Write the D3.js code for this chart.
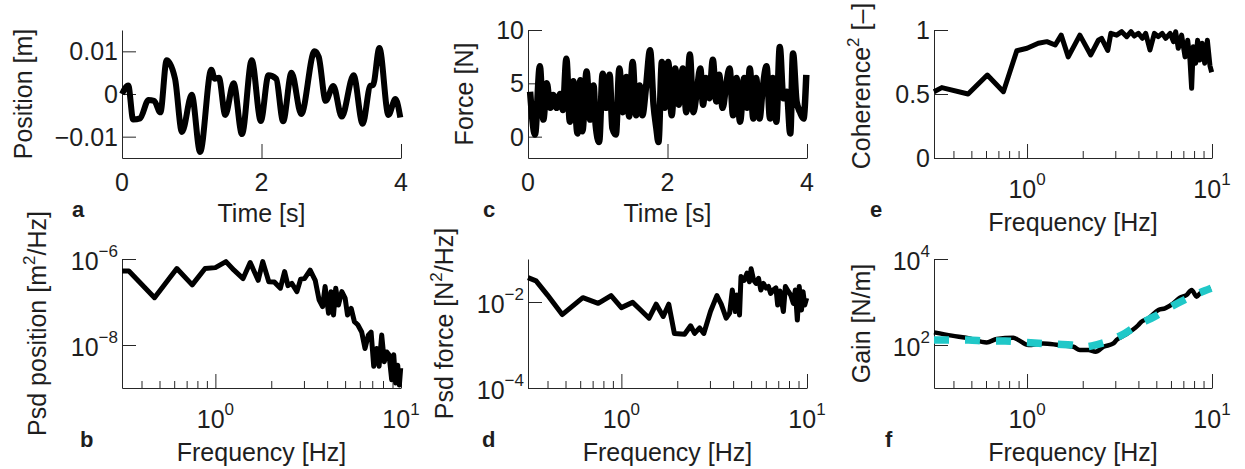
<!DOCTYPE html>
<html>
<head>
<meta charset="utf-8">
<script src="https://cdn.jsdelivr.net/npm/d3@7"></script>
<style>
  body { margin: 0; background: #fff; }
  text { font-family: "Liberation Sans", Arial, Helvetica, sans-serif; fill: #1e1e1e; }
  .axis .domain, .axis line { stroke: #262626; stroke-width: 1; }
</style>
</head>
<body>
<svg id="fig" width="1245" height="469"></svg>
<script>
// ---- data ----
// a: position vs time
const posTime = [0, 0.09, 0.16, 0.26, 0.38, 0.46, 0.55, 0.64, 0.76, 0.86, 1.0, 1.12, 1.28, 1.33, 1.39, 1.48, 1.6, 1.72, 1.86, 1.99,
  2.10, 2.21, 2.31, 2.43, 2.57, 2.76, 2.82, 2.92, 3.03, 3.15, 3.32, 3.45, 3.56, 3.60, 3.69, 3.82, 3.92, 3.99];
const posValue = [0, 0.002, -0.006, -0.0057, -0.0014, -0.0016, -0.0043, 0.0079, 0.0036, -0.0089, -0.0002, -0.0136, 0.0057, 0.0036, 0.0038, -0.0049, 0.0025, -0.0094, 0.0079, -0.0063,
  0.0044, 0.0036, -0.0064, 0.005, -0.0047, 0.01, 0.0087, -0.0016, 0.0019, -0.0053, 0.0044, -0.007, 0.0019, 0.0021, 0.0108, -0.0049, -0.0012, -0.0055];

// c: force vs time
const forceTime = [0.03, 0.10, 0.17, 0.22, 0.27, 0.32, 0.36, 0.41, 0.46, 0.50, 0.55, 0.60, 0.65, 0.71, 0.75, 0.78, 0.84, 0.89, 0.94, 0.97,
  1.02, 1.07, 1.12, 1.17, 1.21, 1.26, 1.31, 1.36, 1.41, 1.45, 1.50, 1.55, 1.60, 1.64, 1.69, 1.75, 1.80, 1.84, 1.87, 1.92,
  1.96, 2.01, 2.06, 2.11, 2.16, 2.22, 2.27, 2.32, 2.37, 2.42, 2.47, 2.51, 2.55, 2.60, 2.65, 2.70, 2.74, 2.79, 2.84, 2.89,
  2.94, 2.99, 3.04, 3.10, 3.14, 3.18, 3.23, 3.27, 3.32, 3.36, 3.42, 3.47, 3.51, 3.56, 3.61, 3.66, 3.71, 3.76, 3.80, 3.85,
  3.90, 3.95, 3.99];
const forceValue = [4.2, 0.2, 6.6, 1.6, 5.0, 2.7, 3.9, 2.7, 4.0, 2.5, 7.3, 1.4, 5.2, 0.3, 5.3, 0.5, 6.1, 1.6, 4.8, 1.1,
  -0.5, 5.9, 2.7, 5.8, 0.8, 0.2, 6.4, 2.3, 5.6, 1.9, 7.0, 2.0, 4.8, 2.0, 4.5, 8.1, 3.0, 0.8, -0.5, 7.0,
  2.7, 7.0, 2.0, 6.4, 3.0, 6.4, 2.3, 7.7, 2.3, 4.2, 6.4, 3.0, 5.5, 3.6, 7.2, 3.3, 5.8, 2.7, 4.8, 6.4,
  2.0, 5.5, 1.4, 5.5, 2.7, 6.4, 1.7, 5.5, 1.7, 4.2, 6.6, 1.7, 5.5, 1.4, 8.4, 3.6, 4.2, 0.3, 7.8, 3.3,
  2.3, 1.7, 5.8];

// e: squared coherence
const cohFreq = [0.314, 0.346, 0.48, 0.61, 0.745, 0.88, 1.0, 1.15, 1.28, 1.42, 1.53, 1.67, 1.93, 2.21, 2.43, 2.53, 2.73, 2.84, 3.05, 3.25,
  3.46, 3.65, 3.8, 4.0, 4.2, 4.38, 4.62, 4.88, 5.12, 5.38, 5.62, 5.94, 6.19, 6.36, 6.57, 6.85, 7.15, 7.39, 7.6, 7.76,
  7.92, 8.15, 8.36, 8.6, 8.85, 9.13, 9.44, 9.75, 9.96];
const cohValue = [0.518, 0.55, 0.5, 0.648, 0.518, 0.838, 0.857, 0.896, 0.909, 0.883, 0.96, 0.79, 0.96, 0.805, 0.92, 0.935, 0.84, 0.974, 0.96, 0.987,
  0.948, 0.987, 0.953, 0.974, 0.935, 0.974, 0.844, 0.974, 0.948, 0.974, 0.935, 0.974, 0.909, 0.987, 0.857, 0.96, 0.79, 0.92, 0.766, 0.544,
  0.87, 0.74, 0.92, 0.766, 0.896, 0.74, 0.92, 0.72, 0.67];

// b: psd of position
const psdPosFreq = [0.314, 0.342, 0.47, 0.62, 0.75, 0.88, 1.0, 1.14, 1.26, 1.41, 1.54, 1.70, 1.80, 1.94, 2.08, 2.24, 2.36, 2.46, 2.58, 2.75,
  2.88, 3.02, 3.24, 3.45, 3.62, 3.78, 3.90, 4.07, 4.20, 4.33, 4.45, 4.60, 4.80, 5.0, 5.15, 5.39, 5.61, 5.85, 6.14, 6.40,
  6.67, 6.90, 7.13, 7.40, 7.62, 7.87, 8.13, 8.37, 8.62, 8.91, 9.14, 9.36, 9.60, 9.80, 9.96];
const psdPosValue = [5.25e-7, 5.25e-7, 1.26e-7, 6.0e-7, 2.5e-7, 6.0e-7, 6.3e-7, 8.7e-7, 5.5e-7, 3.5e-7, 8.3e-7, 3.2e-7, 8.7e-7, 2.95e-7, 2.9e-7, 2.1e-7, 5.1e-7, 2.4e-7, 2.7e-7, 1.74e-7,
  3.4e-7, 3.5e-7, 5.5e-7, 3.2e-7, 1.12e-7, 7.8e-8, 2.3e-7, 5.5e-8, 1.74e-7, 5.0e-8, 2.1e-7, 8.5e-8, 1.74e-7, 1.23e-7, 5.0e-8, 7.1e-8, 3.5e-8, 2.95e-8, 2.0e-8, 8.3e-9,
  1.7e-8, 2.0e-8, 3.2e-9, 8.3e-9, 3.2e-9, 1.7e-8, 4.1e-9, 6.9e-9, 5.9e-9, 1.55e-9, 5.9e-9, 1.3e-9, 3.4e-9, 1.17e-9, 2.9e-9];

// d: psd of force
const psdForceFreq = [0.314, 0.347, 0.40, 0.48, 0.62, 0.75, 0.88, 1.0, 1.15, 1.27, 1.41, 1.54, 1.68, 1.80, 1.93, 2.19, 2.36, 2.48, 2.64, 2.78,
  3.02, 3.27, 3.45, 3.67, 3.83, 3.96, 4.11, 4.19, 4.33, 4.41, 4.59, 4.75, 4.90, 5.0, 5.16, 5.32, 5.48, 5.64, 5.83, 6.02,
  6.20, 6.37, 6.58, 6.80, 6.95, 7.15, 7.46, 7.65, 7.95, 8.17, 8.44, 8.65, 8.87, 9.08, 9.34, 9.52, 9.72, 9.96];
const psdForceValue = [0.037, 0.031, 0.0145, 0.0051, 0.0126, 0.0093, 0.0141, 0.0074, 0.0098, 0.0065, 0.0042, 0.0089, 0.0046, 0.0089, 0.00186, 0.00178, 0.0028, 0.00186, 0.0025, 0.00186,
  0.006, 0.0141, 0.0089, 0.0042, 0.0055, 0.019, 0.006, 0.0145, 0.005, 0.039, 0.032, 0.047, 0.0295, 0.059, 0.032, 0.027, 0.0355, 0.019, 0.027, 0.021,
  0.023, 0.0158, 0.019, 0.0214, 0.0085, 0.018, 0.006, 0.023, 0.0174, 0.0145, 0.0093, 0.019, 0.0038, 0.023, 0.0065, 0.0174, 0.0085, 0.0123];

// f: gain, measured (black) and model fit (cyan dashed)
const gainFreq = [0.314, 0.392, 0.482, 0.605, 0.686, 0.843, 0.898, 1.017, 1.22, 1.48, 1.78, 1.93, 2.15, 2.35, 2.59, 2.93, 3.05, 3.39, 4.0, 4.16,
  4.53, 5.13, 5.57, 6.18, 6.71, 7.29, 7.76, 8.26, 8.6, 9.16, 9.89];
const gainValue = [197, 165, 143, 115, 138, 148, 131, 100, 109, 100, 91, 77, 77, 70, 91, 109, 131, 171, 292, 349,
  417, 652, 713, 931, 1259, 1455, 1901, 1330, 1585, 1803, 1995];
const fitFreq = [0.314, 0.392, 0.482, 0.605, 0.76, 0.975, 1.15, 1.47, 1.74, 2.05, 2.42, 2.86, 3.37, 3.97, 4.88, 6.0, 7.7, 9.9];
const fitValue = [131, 131, 131, 124, 124, 115, 110, 104, 100, 91, 104, 131, 186, 292, 457, 776, 1330, 2080];

// ---- ticks ----
const timeTicks = [0, 2, 4];
const timeLabels = ['0', '2', '4'];
const posTicks = [-0.01, 0, 0.01];
const posLabels = ['\u22120.01', '0', '0.01'];
const forceTicks = [0, 5, 10];
const forceLabels = ['0', '5', '10'];
const cohTicks = [0, 0.5, 1];
const cohLabels = ['0', '0.5', '1'];
const freqTicks = [1, 10];
const freqExps = ['0', '1'];
const freqMinor = [0.4, 0.5, 0.6, 0.7, 0.8, 0.9, 2, 3, 4, 5, 6, 7, 8, 9];
const psdPosTicks = [1e-8, 1e-6];
const psdPosExps = ['\u22128', '\u22126'];
const psdForceTicks = [1e-4, 1e-2];
const psdForceExps = ['\u22124', '\u22122'];
const gainTicks = [1e2, 1e4];
const gainExps = ['2', '4'];

// ---- layout ----
const svg = d3.select('#fig');
const cols = [{l: 122, r: 401}, {l: 528, r: 807}, {l: 934, r: 1212}];
const rows = [{t: 30, b: 158}, {t: 259, b: 388}];
const FS = 25, SUP = 17, TICK = 14, MINOR = 7;

function drawPanel(p) {
  const c = cols[p.col], r = rows[p.row];
  const g = svg.append('g');
  const x = (p.xlog ? d3.scaleLog() : d3.scaleLinear()).domain(p.xdom).range([c.l, c.r]);
  const y = (p.ylog ? d3.scaleLog() : d3.scaleLinear()).domain(p.ydom).range([r.b, r.t]);

  // axes, ticks pointing inwards
  g.append('g').attr('class', 'axis').attr('transform', `translate(${c.l},0)`)
    .call(d3.axisLeft(y).tickValues(p.yticks).tickSizeInner(-TICK).tickSizeOuter(0).tickFormat(''));
  g.append('g').attr('class', 'axis').attr('transform', `translate(0,${r.b})`)
    .call(d3.axisBottom(x).tickValues(p.xticks).tickSizeInner(-TICK).tickSizeOuter(0).tickFormat(''));
  if (p.xlog) {
    g.append('g').attr('class', 'axis').attr('transform', `translate(0,${r.b})`)
      .call(d3.axisBottom(x).tickValues(freqMinor).tickSizeInner(-MINOR).tickSizeOuter(0).tickFormat(''))
      .select('.domain').remove();
  }

  // tick labels
  p.yticks.forEach((v, i) => {
    const t = g.append('text').attr('x', c.l - 4).attr('text-anchor', 'end').attr('font-size', FS);
    if (p.ylog) {
      t.attr('y', y(v) + 11);
      t.append('tspan').text('10');
      t.append('tspan').attr('dy', -13).attr('font-size', SUP).text(p.ylabels[i]);
    } else {
      t.attr('y', y(v) + 9).text(p.ylabels[i]);
    }
  });
  p.xticks.forEach((v, i) => {
    const t = g.append('text').attr('x', x(v)).attr('text-anchor', 'middle').attr('font-size', FS);
    if (p.xlog) {
      t.attr('y', r.b + 40);
      t.append('tspan').text('10');
      t.append('tspan').attr('dy', -13).attr('font-size', SUP).text(p.xlabels[i]);
    } else {
      t.attr('y', r.b + 33).text(p.xlabels[i]);
    }
  });

  // axis titles
  g.append('text').attr('x', (c.l + c.r) / 2).attr('y', r.b + (p.xlog ? 73 : 64))
    .attr('text-anchor', 'middle').attr('font-size', FS).text(p.xtitle);
  const yt = g.append('text')
    .attr('transform', `translate(${p.ytx},${p.yty || (r.t + r.b) / 2}) rotate(-90)`)
    .attr('text-anchor', 'middle').attr('font-size', FS);
  p.ytitle.forEach(s => {
    const ts = yt.append('tspan').text(s.t);
    if (s.sup) ts.attr('dy', -11).attr('font-size', SUP);
    if (s.down) ts.attr('dy', 11);
  });

  // panel letter
  g.append('text').attr('x', p.lx).attr('y', r.b + 59).attr('font-size', 22)
    .attr('font-weight', 'bold').attr('fill', '#111').text(p.letter);

  // data lines
  p.series.forEach(s => {
    const line = d3.line().x(d => x(d[0])).y(d => y(d[1])).curve(s.curve || d3.curveLinear);
    g.append('path').datum(d3.zip(s.xs, s.ys))
      .attr('d', line).attr('fill', 'none')
      .attr('stroke', s.color || '#000').attr('stroke-width', s.width)
      .attr('stroke-linejoin', 'round')
      .attr('stroke-dasharray', s.dash || null);
  });
}

const fdom = [0.314, 10];

drawPanel({col: 0, row: 0, letter: 'a', lx: 72, xdom: [0, 4], ydom: [-0.015, 0.015],
  xticks: timeTicks, xlabels: timeLabels, yticks: posTicks, ylabels: posLabels,
  xtitle: 'Time [s]', ytitle: [{t: 'Position [m]'}], ytx: 32,
  series: [{xs: posTime, ys: posValue, width: 6, curve: d3.curveMonotoneX}]});

drawPanel({col: 1, row: 0, letter: 'c', lx: 483, xdom: [0, 4], ydom: [-2, 10],
  xticks: timeTicks, xlabels: timeLabels, yticks: forceTicks, ylabels: forceLabels,
  xtitle: 'Time [s]', ytitle: [{t: 'Force [N]'}], ytx: 473,
  series: [{xs: forceTime, ys: forceValue, width: 6.5, curve: d3.curveMonotoneX}]});

drawPanel({col: 2, row: 0, letter: 'e', lx: 870, xlog: true, xdom: fdom, ydom: [0, 1],
  xticks: freqTicks, xlabels: freqExps, yticks: cohTicks, ylabels: cohLabels,
  xtitle: 'Frequency [Hz]', ytitle: [{t: 'Coherence'}, {t: '2', sup: true}, {t: ' [\u2013]', down: true}], ytx: 870, yty: 86,
  series: [{xs: cohFreq, ys: cohValue, width: 5}]});

drawPanel({col: 0, row: 1, letter: 'b', lx: 80, xlog: true, ylog: true, xdom: fdom, ydom: [1e-9, 1e-6],
  xticks: freqTicks, xlabels: freqExps, yticks: psdPosTicks, ylabels: psdPosExps,
  xtitle: 'Frequency [Hz]', ytitle: [{t: 'Psd position [m'}, {t: '2', sup: true}, {t: '/Hz]', down: true}], ytx: 46,
  series: [{xs: psdPosFreq, ys: psdPosValue, width: 5}]});

drawPanel({col: 1, row: 1, letter: 'd', lx: 482, xlog: true, ylog: true, xdom: fdom, ydom: [1e-4, 1e-1],
  xticks: freqTicks, xlabels: freqExps, yticks: psdForceTicks, ylabels: psdForceExps,
  xtitle: 'Frequency [Hz]', ytitle: [{t: 'Psd force [N'}, {t: '2', sup: true}, {t: '/Hz]', down: true}], ytx: 453,
  series: [{xs: psdForceFreq, ys: psdForceValue, width: 5}]});

drawPanel({col: 2, row: 1, letter: 'f', lx: 885, xlog: true, ylog: true, xdom: fdom, ydom: [10, 1e4],
  xticks: freqTicks, xlabels: freqExps, yticks: gainTicks, ylabels: gainExps,
  xtitle: 'Frequency [Hz]', ytitle: [{t: 'Gain [N/m]'}], ytx: 870,
  series: [
    {xs: gainFreq, ys: gainValue, width: 4.5, curve: d3.curveMonotoneX},
    {xs: fitFreq, ys: fitValue, width: 7.5, color: '#20c8c8', dash: '15,16', curve: d3.curveMonotoneX}
  ]});
</script>
</body>
</html>
